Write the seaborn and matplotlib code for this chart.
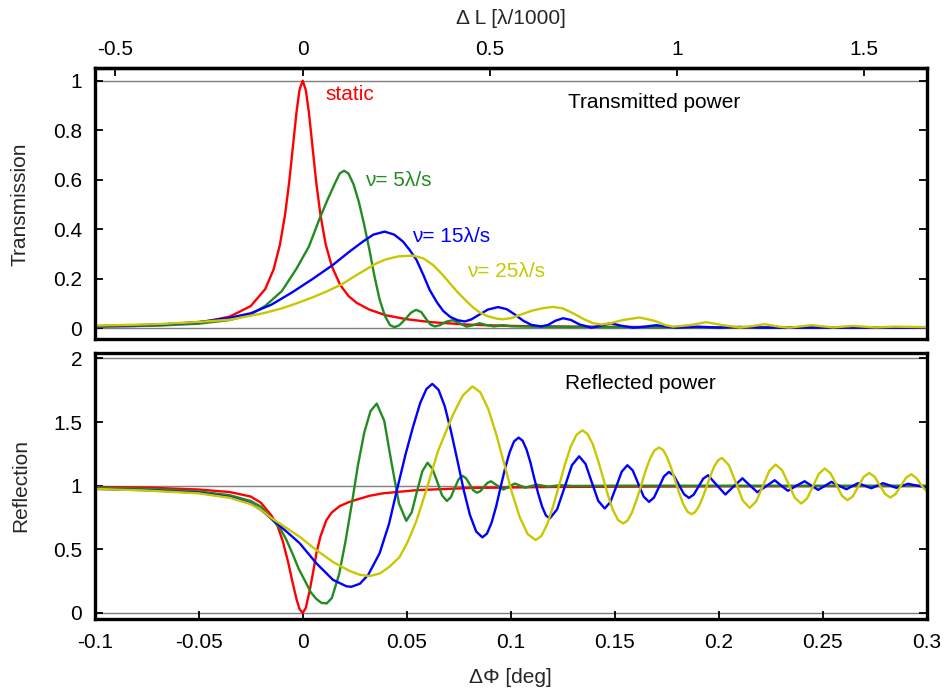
import pandas as pd
import matplotlib
matplotlib.use("Agg")
import matplotlib.pyplot as plt
from matplotlib.ticker import FuncFormatter, FixedLocator
import seaborn as sns

sns.set_theme(style="white")
plt.rcParams['font.family'] = ['Liberation Sans', 'DejaVu Sans']
plt.rcParams['axes.unicode_minus'] = False

# ---------------- transmission (top panel) ----------------
phi_T_static = [-0.1, -0.08, -0.06, -0.045, -0.035, -0.025, -0.018, -0.014, -0.011, -0.0085,
                -0.0065, -0.0045, -0.003, -0.0015, 0.0, 0.0015, 0.003, 0.0045, 0.0065, 0.0085,
                0.011, 0.014, 0.018, 0.022, 0.026, 0.032, 0.04, 0.05, 0.062, 0.08,
                0.1, 0.13, 0.18, 0.3]
T_static = [0.006, 0.009, 0.017, 0.029, 0.047, 0.089, 0.158, 0.237, 0.335, 0.457,
            0.59, 0.75, 0.871, 0.964, 1.0, 0.962, 0.87, 0.75, 0.59, 0.46,
            0.34, 0.25, 0.175, 0.13, 0.102, 0.075, 0.052, 0.036, 0.024, 0.014,
            0.009, 0.006, 0.004, 0.002]

phi_T_5 = [-0.1, -0.07, -0.05, -0.035, -0.025, -0.018, -0.01, -0.003, 0.003, 0.008,
           0.012, 0.0155, 0.0178, 0.0199, 0.022, 0.0245, 0.027, 0.0295, 0.032, 0.0345,
           0.037, 0.0395, 0.042, 0.0442, 0.0465, 0.0495, 0.052, 0.0545, 0.057, 0.0595,
           0.0615, 0.0635, 0.066, 0.069, 0.072, 0.075, 0.0787, 0.082, 0.085, 0.088,
           0.092, 0.096, 0.1, 0.11, 0.15, 0.2, 0.3]
T_5 = [0.006, 0.01, 0.018, 0.033, 0.055, 0.09, 0.15, 0.24, 0.33, 0.44,
       0.52, 0.585, 0.625, 0.636, 0.625, 0.58, 0.51, 0.42, 0.32, 0.21,
       0.115, 0.05, 0.012, 0.004, 0.012, 0.038, 0.062, 0.074, 0.065, 0.035,
       0.014, 0.007, 0.012, 0.026, 0.032, 0.022, 0.006, 0.012, 0.02, 0.013,
       0.007, 0.012, 0.008, 0.006, 0.004, 0.003, 0.002]

phi_T_15 = [-0.1, -0.07, -0.05, -0.035, -0.025, -0.015, -0.005, 0.005, 0.0146, 0.0226,
            0.029, 0.034, 0.0394, 0.044, 0.0482, 0.0515, 0.0547, 0.058, 0.061, 0.0645,
            0.0675, 0.071, 0.0745, 0.0779, 0.081, 0.085, 0.089, 0.0939, 0.098, 0.102,
            0.106, 0.11, 0.1147, 0.118, 0.1215, 0.1252, 0.129, 0.133, 0.1388, 0.143,
            0.148, 0.153, 0.159, 0.1645, 0.17, 0.175, 0.18, 0.19, 0.2, 0.21,
            0.22, 0.3]
T_15 = [0.008, 0.014, 0.024, 0.042, 0.06, 0.095, 0.145, 0.2, 0.256, 0.31,
        0.35, 0.378, 0.39, 0.378, 0.35, 0.315, 0.276, 0.215, 0.155, 0.105,
        0.07, 0.045, 0.032, 0.027, 0.035, 0.055, 0.075, 0.085, 0.077, 0.055,
        0.03, 0.013, 0.007, 0.013, 0.03, 0.04, 0.033, 0.015, 0.002, 0.009,
        0.02, 0.01, 0.002, 0.006, 0.012, 0.006, 0.002, 0.006, 0.002, 0.005,
        0.002, 0.002]

phi_T_25 = [-0.1, -0.07, -0.05, -0.035, -0.019, -0.01, -0.003, 0.005, 0.012, 0.019,
            0.025, 0.03, 0.035, 0.04, 0.046, 0.053, 0.058, 0.0627, 0.067, 0.0707,
            0.0745, 0.0786, 0.082, 0.085, 0.089, 0.0935, 0.0963, 0.1, 0.105, 0.11,
            0.115, 0.1203, 0.125, 0.13, 0.135, 0.1396, 0.1436, 0.148, 0.154, 0.162,
            0.169, 0.1745, 0.178, 0.186, 0.194, 0.202, 0.21, 0.216, 0.222, 0.229,
            0.234, 0.2446, 0.255, 0.2646, 0.275, 0.285, 0.3]
T_25 = [0.01, 0.016, 0.025, 0.034, 0.06, 0.08, 0.1, 0.125, 0.15, 0.178,
        0.21, 0.235, 0.26, 0.278, 0.29, 0.293, 0.282, 0.255, 0.218, 0.182,
        0.145, 0.11, 0.083, 0.064, 0.048, 0.038, 0.036, 0.04, 0.055, 0.07,
        0.08, 0.086, 0.08, 0.06, 0.037, 0.02, 0.015, 0.02, 0.033, 0.043,
        0.03, 0.012, 0.006, 0.012, 0.024, 0.012, 0.003, 0.008, 0.016, 0.006,
        0.002, 0.012, 0.003, 0.009, 0.003, 0.006, 0.004]

# ---------------- reflection (bottom panel) ----------------
phi_R_static = [-0.1, -0.075, -0.05, -0.035, -0.025, -0.02, -0.015, -0.012, -0.0095, -0.007,
                -0.005, -0.003, -0.0015, 0.0, 0.0015, 0.0034, 0.005, 0.0066, 0.0085, 0.0114,
                0.014, 0.0178, 0.022, 0.0258, 0.032, 0.0385, 0.0547, 0.08, 0.12, 0.2,
                0.3]
R_static = [0.99, 0.985, 0.97, 0.95, 0.915, 0.865, 0.765, 0.68, 0.56, 0.40,
            0.25, 0.11, 0.03, 0.0, 0.04, 0.18, 0.32, 0.47, 0.6, 0.73,
            0.79, 0.84, 0.87, 0.89, 0.92, 0.94, 0.965, 0.982, 0.99, 0.995,
            0.997]

phi_R_5 = [-0.1, -0.075, -0.05, -0.035, -0.025, -0.02, -0.015, -0.011, -0.008, -0.005,
           -0.002, 0.0018, 0.004, 0.0066, 0.009, 0.0115, 0.014, 0.0175, 0.0205, 0.0236,
           0.0266, 0.0296, 0.0326, 0.0356, 0.0392, 0.0427, 0.0463, 0.0498, 0.0524, 0.0549,
           0.0575, 0.06, 0.0623, 0.0647, 0.067, 0.0693, 0.0712, 0.073, 0.0749, 0.0768,
           0.0785, 0.0803, 0.082, 0.0838, 0.0855, 0.0871, 0.0888, 0.0905, 0.0935, 0.0965,
           0.0993, 0.102, 0.1045, 0.107, 0.1125, 0.118, 0.124, 0.13, 0.15, 0.3]
R_5 = [0.985, 0.975, 0.955, 0.925, 0.88, 0.835, 0.74, 0.67, 0.58, 0.47,
       0.35, 0.23, 0.16, 0.11, 0.08, 0.075, 0.117, 0.304, 0.556, 0.857,
       1.165, 1.418, 1.586, 1.645, 1.51, 1.18, 0.86, 0.724, 0.791, 0.952,
       1.113, 1.18, 1.136, 1.03, 0.924, 0.88, 0.909, 0.979, 1.049, 1.078,
       1.059, 1.011, 0.964, 0.945, 0.958, 0.99, 1.022, 1.035, 1.002, 0.97,
       0.994, 1.017, 1.001, 0.985, 1.008, 0.993, 1.004, 0.998, 1.0, 1.0]

phi_R_15 = [-0.1, -0.075, -0.05, -0.035, -0.025, -0.02, -0.015, -0.0095, -0.005, -0.0014,
            0.0066, 0.0146, 0.021, 0.0234, 0.0275, 0.0315, 0.037, 0.0415, 0.0458, 0.0495,
            0.053, 0.0565, 0.0595, 0.0623, 0.0653, 0.0683, 0.0713, 0.0744, 0.0774, 0.0804,
            0.0834, 0.0864, 0.0886, 0.0908, 0.093, 0.0951, 0.0973, 0.0995, 0.1016, 0.1038,
            0.1057, 0.1076, 0.1095, 0.1113, 0.1132, 0.1151, 0.1169, 0.1188, 0.1223, 0.1259,
            0.1294, 0.1329, 0.136, 0.139, 0.1421, 0.1452, 0.1479, 0.1507, 0.1534, 0.1561,
            0.1587, 0.1613, 0.1639, 0.1665, 0.1689, 0.1713, 0.1737, 0.1761, 0.1785, 0.1809,
            0.1833, 0.1857, 0.188, 0.1903, 0.1926, 0.1949, 0.199, 0.2032, 0.2073, 0.2114,
            0.215, 0.2186, 0.2228, 0.2269, 0.2301, 0.2333, 0.2373, 0.2413, 0.2446, 0.2478,
            0.251, 0.2542, 0.2578, 0.2614, 0.2642, 0.267, 0.2702, 0.2734, 0.2762, 0.279,
            0.2822, 0.2854, 0.2882, 0.291, 0.2955, 0.3]
R_15 = [0.975, 0.965, 0.945, 0.91, 0.86, 0.81, 0.74, 0.664, 0.6, 0.547,
        0.39, 0.26, 0.21, 0.206, 0.23, 0.3, 0.47, 0.7, 1.0, 1.25,
        1.46, 1.65, 1.76, 1.80, 1.754, 1.624, 1.428, 1.197, 0.966, 0.77,
        0.64, 0.594, 0.624, 0.709, 0.836, 0.986, 1.136, 1.263, 1.348, 1.378,
        1.354, 1.285, 1.182, 1.06, 0.939, 0.836, 0.767, 0.743, 0.814, 0.987,
        1.16, 1.231, 1.171, 1.026, 0.881, 0.821, 0.871, 0.991, 1.111, 1.161,
        1.119, 1.017, 0.915, 0.873, 0.907, 0.99, 1.074, 1.108, 1.078, 1.006,
        0.934, 0.904, 0.93, 0.993, 1.056, 1.082, 1.006, 0.931, 0.996, 1.058,
        1.002, 0.949, 0.996, 1.043, 1.0, 0.96, 0.999, 1.035, 1.0, 0.967,
        0.998, 1.03, 1.0, 0.972, 0.996, 1.02, 1.0, 0.98, 1.0, 1.02,
        1.002, 0.983, 0.999, 1.015, 1.0, 0.985]

phi_R_25 = [-0.1, -0.075, -0.05, -0.035, -0.025, -0.02, -0.015, -0.008, -0.0014, 0.0066,
            0.0146, 0.0226, 0.0275, 0.0322, 0.037, 0.0415, 0.0466, 0.0505, 0.0546, 0.0595,
            0.065, 0.0723, 0.077, 0.0816, 0.0854, 0.0892, 0.093, 0.0968, 0.1006, 0.1044,
            0.1082, 0.112, 0.1148, 0.1176, 0.1204, 0.1233, 0.1261, 0.1289, 0.1317, 0.1345,
            0.1369, 0.1394, 0.1418, 0.1443, 0.1467, 0.1491, 0.1516, 0.154, 0.1562, 0.1583,
            0.1605, 0.1627, 0.1648, 0.167, 0.1691, 0.1713, 0.1733, 0.1752, 0.1772, 0.1791,
            0.1811, 0.183, 0.185, 0.1869, 0.1887, 0.1906, 0.1924, 0.1943, 0.1961, 0.1979,
            0.1998, 0.2016, 0.2049, 0.2083, 0.2116, 0.2149, 0.218, 0.2212, 0.2243, 0.2274,
            0.2305, 0.2336, 0.2366, 0.2397, 0.2425, 0.2454, 0.2482, 0.251, 0.2537, 0.2565,
            0.2592, 0.2619, 0.2645, 0.2671, 0.2697, 0.2723, 0.2749, 0.2774, 0.28, 0.2825,
            0.285, 0.2876, 0.2901, 0.2926, 0.2951, 0.2976, 0.3]
R_25 = [0.975, 0.962, 0.94, 0.905, 0.855, 0.81, 0.745, 0.67, 0.598, 0.494,
        0.40, 0.33, 0.30, 0.29, 0.31, 0.36, 0.44, 0.56, 0.72, 0.97,
        1.27, 1.56, 1.71, 1.78, 1.734, 1.603, 1.407, 1.177, 0.946, 0.75,
        0.619, 0.573, 0.606, 0.699, 0.839, 1.004, 1.169, 1.309, 1.402, 1.435,
        1.407, 1.328, 1.209, 1.069, 0.929, 0.81, 0.731, 0.703, 0.726, 0.79,
        0.887, 1.002, 1.116, 1.213, 1.277, 1.30, 1.28, 1.223, 1.138, 1.038,
        0.938, 0.853, 0.796, 0.776, 0.793, 0.841, 0.912, 0.997, 1.082, 1.153,
        1.201, 1.218, 1.161, 1.022, 0.883, 0.826, 0.876, 0.996, 1.116, 1.166,
        1.121, 1.013, 0.905, 0.86, 0.9, 0.998, 1.095, 1.135, 1.099, 1.011,
        0.922, 0.886, 0.917, 0.993, 1.069, 1.10, 1.072, 1.004, 0.935, 0.907,
        0.934, 0.999, 1.063, 1.09, 1.06, 1.0, 0.955]

curve_order = ['static', '5', '15', '25']
palette = {'static': '#ff0000', '5': '#228b22', '15': '#0000ff', '25': '#c8c800'}

deg_per_dl = 0.18  # 1 lambda/1000 of length change -> deg of phase


def long_form(pairs):
    frames = [pd.DataFrame({'phi': x, 'val': y, 'curve': name})
              for name, (x, y) in pairs.items()]
    return pd.concat(frames, ignore_index=True)


trans = long_form({'static': (phi_T_static, T_static), '5': (phi_T_5, T_5),
                   '15': (phi_T_15, T_15), '25': (phi_T_25, T_25)})
refl = long_form({'static': (phi_R_static, R_static), '5': (phi_R_5, R_5),
                  '15': (phi_R_15, R_15), '25': (phi_R_25, R_25)})

fig = plt.figure(figsize=(9.46, 6.91), dpi=100)
ax_top = fig.add_axes([0.1001, 0.509, 0.8795, 0.3922])
ax_bot = fig.add_axes([0.1001, 0.1046, 0.8795, 0.385])

fs = 15
fmt = FuncFormatter(lambda v, _: f'{v:g}')

for ax, df, ylim, hl in [(ax_top, trans, (-0.045, 1.05), [0, 1]),
                         (ax_bot, refl, (-0.045, 2.045), [0, 1, 2])]:
    for h in hl:
        ax.axhline(h, color='#7f7f7f', lw=1.0, zorder=0.5)
    sns.lineplot(data=df, x='phi', y='val', hue='curve', hue_order=curve_order,
                 palette=palette, estimator=None, sort=False, lw=1.7,
                 legend=False, ax=ax)
    ax.set_xlim(-0.1, 0.3)
    ax.set_ylim(*ylim)
    ax.set_xlabel('')
    ax.set_ylabel('')
    for sp in ax.spines.values():
        sp.set_linewidth(2.4)
        sp.set_color('black')
    ax.xaxis.set_major_formatter(fmt)
    ax.yaxis.set_major_formatter(fmt)
    ax.tick_params(axis='y', direction='in', length=6, width=1.3, left=True,
                   right=True, labelsize=fs, pad=9, colors='black')

ax_top.yaxis.set_major_locator(FixedLocator([0, 0.2, 0.4, 0.6, 0.8, 1]))
ax_bot.yaxis.set_major_locator(FixedLocator([0, 0.5, 1, 1.5, 2]))
ax_bot.xaxis.set_major_locator(FixedLocator([-0.1, -0.05, 0, 0.05, 0.1, 0.15, 0.2, 0.25, 0.3]))

ax_top.tick_params(axis='x', bottom=False, top=False, labelbottom=False)
ax_bot.tick_params(axis='x', direction='in', length=6, width=1.3, bottom=True,
                   top=False, labelsize=fs, pad=10, colors='black')

sec = ax_top.secondary_xaxis('top', functions=(lambda p: p / deg_per_dl,
                                               lambda l: l * deg_per_dl))
sec.xaxis.set_major_locator(FixedLocator([-0.5, 0, 0.5, 1, 1.5]))
sec.xaxis.set_major_formatter(fmt)
sec.tick_params(axis='x', direction='in', length=6, width=1.3, labelsize=fs,
                pad=7, colors='black')
sec.spines['top'].set_linewidth(2.4)
sec.set_xlabel('Δ L [λ/1000]', fontsize=fs, labelpad=11)

ax_top.set_ylabel('Transmission', fontsize=fs)
ax_top.yaxis.set_label_coords(-0.078, 0.5)
ax_bot.set_ylabel('Reflection', fontsize=fs)
ax_bot.yaxis.set_label_coords(-0.078, 0.5)
ax_bot.set_xlabel('ΔΦ [deg]', fontsize=fs)
ax_bot.xaxis.set_label_coords(0.5, -0.185)

ax_top.text(0.0111, 0.943, 'static', color=palette['static'], fontsize=fs,
            ha='left', va='center')
ax_top.text(0.0298, 0.597, 'ν= 5λ/s', color=palette['5'], fontsize=fs,
            ha='left', va='center')
ax_top.text(0.0528, 0.37, 'ν= 15λ/s', color=palette['15'], fontsize=fs,
            ha='left', va='center')
ax_top.text(0.0788, 0.228, 'ν= 25λ/s', color=palette['25'], fontsize=fs,
            ha='left', va='center')
ax_top.text(0.1688, 0.913, 'Transmitted power', color='black', fontsize=fs,
            ha='center', va='center')
ax_bot.text(0.1625, 1.80, 'Reflected power', color='black', fontsize=fs,
            ha='center', va='center')

fig.savefig('out.png', dpi=100)
